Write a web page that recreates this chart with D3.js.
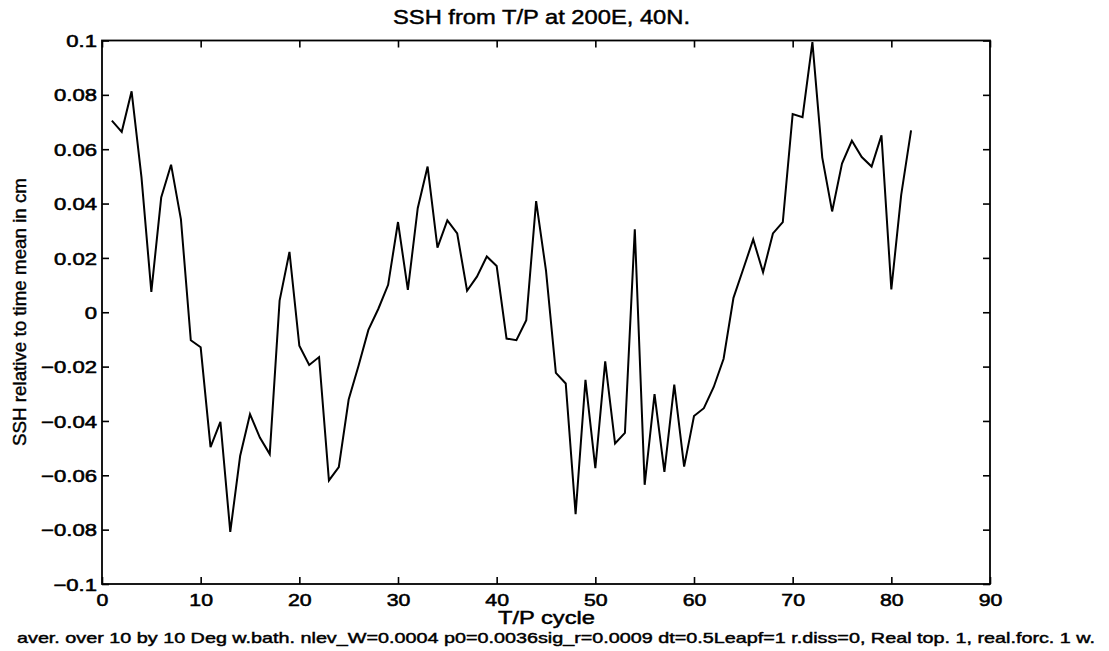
<!DOCTYPE html>
<html>
<head>
<meta charset="utf-8">
<script src="https://cdn.jsdelivr.net/npm/d3@7"></script>
<style>
  body { margin: 0; background: #fff; }
  svg { display: block; }
  text { font-family: "Liberation Sans", Arial, Helvetica, sans-serif; fill: #000; }
</style>
</head>
<body>
<svg width="1109" height="651"></svg>
<script>
//data
const cycles = d3.range(1, 83);
const ssh = [
  0.0705, 0.0664, 0.0813, 0.0497, 0.0075, 0.0422, 0.0543, 0.0342, -0.0103, -0.0129,
  -0.0496, -0.0403, -0.0808, -0.0529, -0.0375, -0.0461, -0.0522, 0.0043, 0.0222, -0.0123,
  -0.0194, -0.0165, -0.0619, -0.0570, -0.0321, -0.0197, -0.0065, 0.0012, 0.0101, 0.0332,
  0.0082, 0.0383, 0.0536, 0.0238, 0.0338, 0.0290, 0.0079, 0.0131, 0.0205, 0.0170,
  -0.0097, -0.0103, -0.0029, 0.0409, 0.0153, -0.0223, -0.0262, -0.0743, -0.0249, -0.0574,
  -0.0181, -0.0483, -0.0444, 0.0305, -0.0635, -0.0301, -0.0587, -0.0266, -0.0568, -0.0382,
  -0.0353, -0.0275, -0.0171, 0.0053, 0.0160, 0.0268, 0.0147, 0.0290, 0.0332, 0.0729,
  0.0718, 0.0994, 0.0569, 0.0371, 0.0547, 0.0631, 0.0571, 0.0536, 0.0651, 0.0084,
  0.0432, 0.0669
];
const xTicks = [0, 10, 20, 30, 40, 50, 60, 70, 80, 90];
const yTicks = [-0.1, -0.08, -0.06, -0.04, -0.02, 0, 0.02, 0.04, 0.06, 0.08, 0.1];
const yTickLabels = ["\u22120.1", "\u22120.08", "\u22120.06", "\u22120.04", "\u22120.02", "0",
                     "0.02", "0.04", "0.06", "0.08", "0.1"];
const title = "SSH from T/P at 200E, 40N.";
const xLabel = "T/P cycle";
const yLabel = "SSH relative to time mean in cm";
const caption = "aver. over 10 by 10 Deg w.bath. nlev_W=0.0004 p0=0.0036sig_r=0.0009 dt=0.5Leapf=1 r.diss=0, Real top. 1, real.forc. 1 w.";

//layout
const plotL = 102, plotR = 990, plotT = 40.5, plotB = 584;
const tickLen = 7;
const stretch = 1.3;   //scanned labels are wider than the font

const svg = d3.select('svg');
const x = d3.scaleLinear().domain([0, 90]).range([plotL, plotR]);
const y = d3.scaleLinear().domain([-0.1, 0.1]).range([plotB, plotT]);

//ticks (inward, on all four sides)
const gx = svg.append('g')
  .attr('transform', `translate(0,${plotB})`)
  .call(d3.axisBottom(x).tickValues(xTicks).tickSize(-tickLen).tickFormat(d => d));
gx.selectAll('text')
  .attr('y', 22).attr('dy', 0)
  .attr('font-size', 17)
  .attr('transform', `scale(1.25,1)`);

svg.append('g')
  .attr('transform', `translate(0,${plotT})`)
  .call(d3.axisTop(x).tickValues(xTicks).tickSize(-tickLen).tickFormat(''));

const gy = svg.append('g')
  .attr('transform', `translate(${plotL},0)`)
  .call(d3.axisLeft(y).tickValues(yTicks).tickSize(-tickLen).tickFormat((d, i) => yTickLabels[i]));
gy.selectAll('text')
  .attr('x', -5 / stretch).attr('dy', '0.36em')
  .attr('font-size', 17)
  .attr('transform', `scale(${stretch},1)`);

svg.append('g')
  .attr('transform', `translate(${plotR},0)`)
  .call(d3.axisRight(y).tickValues(yTicks).tickSize(-tickLen).tickFormat(''));

svg.selectAll('.domain').remove();
svg.selectAll('.tick line').attr('stroke', '#000').attr('stroke-width', 1.6);
svg.selectAll('.tick text').attr('font-family', '"Liberation Sans", Arial, sans-serif')
  .attr('stroke', '#000').attr('stroke-width', 0.55);

//frame
svg.append('rect')
  .attr('x', plotL).attr('y', plotT)
  .attr('width', plotR - plotL).attr('height', plotB - plotT)
  .attr('fill', 'none').attr('stroke', '#000').attr('stroke-width', 1.8);

//series
const line = d3.line().x((d, i) => x(cycles[i])).y(d => y(d));
svg.append('path')
  .datum(ssh)
  .attr('d', line)
  .attr('fill', 'none')
  .attr('stroke', '#000')
  .attr('stroke-width', 2)
  .attr('stroke-linejoin', 'miter');

//labels
const label = (txt, xp, yp, size, len) => svg.append('text')
  .attr('x', xp).attr('y', yp)
  .attr('font-size', size)
  .attr('textLength', len).attr('lengthAdjust', 'spacingAndGlyphs')
  .attr('stroke', '#000').attr('stroke-width', 0.45)
  .text(txt);

label(title, 393, 24, 20, 297);
label(xLabel, 498, 624, 17.5, 97);
label(caption, 17, 643, 15, 1078);

svg.append('text')
  .attr('transform', 'translate(26,446) rotate(-90)')
  .attr('font-size', 18)
  .attr('textLength', 268).attr('lengthAdjust', 'spacingAndGlyphs')
  .attr('stroke', '#000').attr('stroke-width', 0.4)
  .text(yLabel);
</script>
</body>
</html>
